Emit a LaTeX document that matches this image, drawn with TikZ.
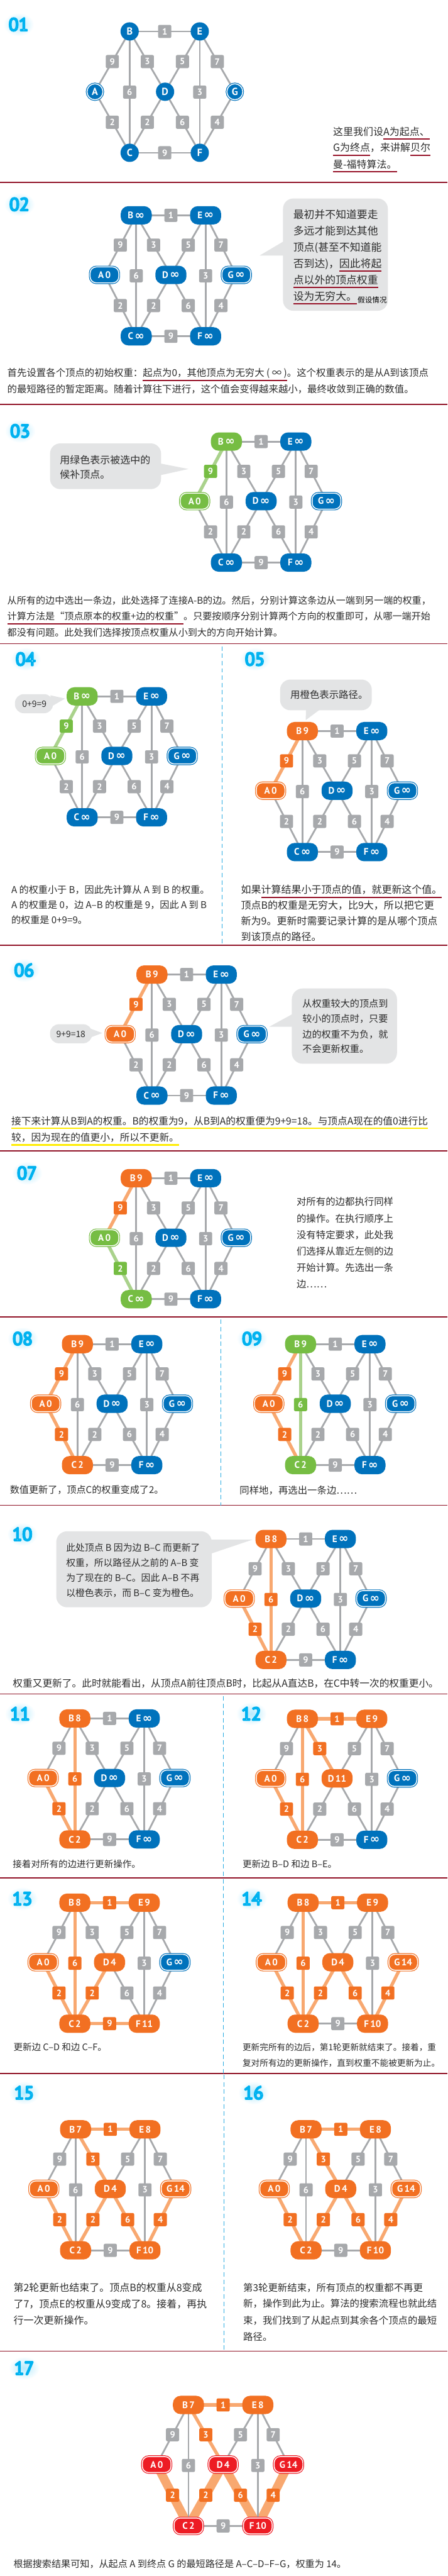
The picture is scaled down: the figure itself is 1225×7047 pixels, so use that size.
\documentclass[tikz,border=0pt]{standalone}
\usepackage{fontspec}
\setmainfont{Noto Sans CJK SC}
\newfontfamily\nodefamily{PT Sans}
\newfontfamily\inffamily{DejaVu Sans}
\usetikzlibrary{calc}
\pgfdeclarelayer{bg}
\pgfsetlayers{bg,main}
\definecolor{nblue}{RGB}{0,114,188}
\definecolor{ngrey}{RGB}{167,169,172}
\definecolor{ngreen}{RGB}{118,189,67}
\definecolor{lgreen}{RGB}{170,210,140}
\definecolor{norange}{RGB}{242,112,34}
\definecolor{lorange}{RGB}{248,168,112}
\definecolor{nred}{RGB}{237,28,36}
\definecolor{sepred}{RGB}{145,20,40}
\definecolor{divcyan}{RGB}{41,171,226}
\definecolor{bubc}{RGB}{227,228,229}
\definecolor{txtc}{RGB}{45,45,45}
\definecolor{ulred}{RGB}{150,18,40}
\definecolor{ulyel}{RGB}{255,236,0}
\definecolor{numglow}{RGB}{80,205,250}
\newcommand\vfont{\nodefamily\bfseries\fontsize{26}{26}\selectfont}
\newcommand\cfont{\nodefamily\bfseries\fontsize{28}{28}\selectfont}
\newcommand\lfont{\nodefamily\bfseries\fontsize{25}{25}\selectfont}
\newcommand\numfont{\nodefamily\fontsize{50}{50}\selectfont}
\newcommand\hsp{\hspace{4pt}}
\newcommand\infy{\raisebox{-1pt}{\inffamily\bfseries\fontsize{32}{32}\selectfont ∞}}
\newcommand\ul[1]{\setbox0\hbox{#1}\rlap{\color{ulred}\rule[-11.75pt]{\wd0}{3.5pt}}\box0}
\newcommand\uly[1]{\setbox0\hbox{#1}\rlap{\color{ulyel}\rule[-11.75pt]{\wd0}{4pt}}\box0}
\newcommand\outl[1]{\special{pdf:literal direct 0 0.698 0.941 RG 3.8 w 1 j 2 Tr}#1\special{pdf:literal direct 0 Tr}}
\newcounter{tln}
\newcommand\tline[4][26]{\stepcounter{tln}\node[txt,font=\fontsize{#1}{#1}\selectfont] (tl\arabic{tln}) at (#2,{#3+0.38*#1}) {#4};}
\newcommand\tcen[4][24]{\stepcounter{tln}\node[txt,anchor=base,font=\fontsize{#1}{#1}\selectfont] (tl\arabic{tln}) at (#2,{#3+0.38*#1}) {#4};}
\tikzset{
 txt/.style={anchor=base west,inner sep=0pt,text=txtc},
 numtxt/.style={inner sep=0pt,font=\numfont,text=white},
 vbase/.style={rectangle,rounded corners=21pt,minimum width=85pt,minimum height=50pt,inner sep=0pt,text=white,font=\vfont},
 vring/.style={vbase,rounded corners=17pt,minimum width=78.5pt,minimum height=43.5pt,line width=2pt,double distance=2.5pt,double=white},
 vb/.style={vbase,fill=nblue},
 vbr/.style={vring,fill=nblue,draw=nblue},
 vg/.style={vbase,fill=ngreen},
 vgr/.style={vring,fill=ngreen,draw=ngreen},
 vo/.style={vbase,fill=norange},
 vor/.style={vring,fill=norange,draw=norange},
 vrr/.style={vring,fill=nred,draw=nred},
 cb/.style={circle,minimum size=50pt,inner sep=0pt,fill=nblue,text=white,font=\cfont},
 cbr/.style={cb,minimum size=43.5pt,draw=nblue,line width=2pt,double distance=2.5pt,double=white},
 eg/.style={draw=ngrey,line width=4.8pt},
 egr/.style={draw=lgreen,line width=9pt},
 eo/.style={draw=lorange,line width=9pt},
 ef/.style={draw=lorange,line width=24pt},
 lbase/.style={rectangle,rounded corners=4pt,minimum width=36pt,minimum height=36pt,inner sep=0pt,text=white,font=\lfont},
 lg/.style={lbase,fill=ngrey},
 lgr/.style={lbase,fill=ngreen},
 lo/.style={lbase,fill=norange},
 lf/.style={lbase,fill=norange},
 sep/.style={draw=sepred,line width=3pt},
 divl/.style={draw=divcyan,line width=1.8pt,dash pattern=on 12pt off 8pt},
}
\newcommand\setrect{\def\posA{-87,163}\def\posB{0,0}\def\posC{0,331}\def\posD{95,163}\def\posE{190,0}\def\posF{190,331}\def\posG{274,163}}
\newcommand\setcirc{\def\posA{-95,165}\def\posB{0,0}\def\posC{0,332}\def\posD{97,165}\def\posE{192,0}\def\posF{192,332}\def\posG{288,165}}
\newcommand\gph[4]{%
 \begin{scope}[shift={(#2)}]
 \foreach \nn/\st/\tx in {#3}{%
  \edef\tmp{\noexpand\node[\st] (#1\nn) at (\csname pos\nn\endcsname) {\unexpanded\expandafter{\tx}};}\tmp}
 \end{scope}
 \begin{pgfonlayer}{bg}
 \foreach \ea/\eb/\ew/\ec in {#4}{%
  \edef\tmp{\noexpand\draw[e\ec] (#1\ea.center) -- (#1\eb.center);}\tmp}
 \end{pgfonlayer}
 \foreach \ea/\eb/\ew/\ec in {#4}{%
  \edef\tmp{\noexpand\node[l\ec] (#1\ea\eb) at ($(#1\ea.center)!0.5!(#1\eb.center)$) {\ew};}\tmp}
}
\newcommand\secnum[4]{%
 \shade[inner color=numglow!42,outer color=white] (#2,#3) ellipse (42 and 32);
 \node[numtxt] (#1) at (#2,#3) {\outl{#4}};
}
\begin{document}
\begin{tikzpicture}[x=1pt,y=-1pt]
\useasboundingbox (0,0) rectangle (1225,7047);
\begin{pgfonlayer}{bg}
\fill[white] (0,0) rectangle (1225,7047);
\end{pgfonlayer}
% separators and dividers
\foreach \yy in {499,1106,1761,2586,3148,3603,4118,4634,5137,5672,6432}{\draw[sep] (0,\yy) -- (1225,\yy);}
\draw[divl] (608,1768) -- (608,2586);
\draw[divl] (604,3610) -- (604,4118);
\draw[divl] (612,4640) -- (612,5137);
\draw[divl] (612,5140) -- (612,5672);
\draw[divl] (613,5676) -- (613,6432);
% ---------- 01
\secnum{n01}{51}{67}{01}
\setcirc
\gph{a}{355,86}{A/cbr/A,B/cb/B,C/cb/C,D/cb/D,E/cb/E,F/cb/F,G/cbr/G}{A/B/9/g,A/C/2/g,B/C/6/g,B/D/3/g,B/E/1/g,C/D/2/g,C/F/9/g,D/E/5/g,D/F/6/g,E/F/3/g,E/G/7/g,F/G/4/g}
\tline[27.5]{912}{360}{这里我们设\ul{A为起点、}}
\tline[27.5]{912}{404}{\ul{G为终点}，来讲解\ul{贝尔}}
\tline[27.5]{912}{450}{\ul{曼-福特算法。}}
% ---------- 02
\secnum{n02}{53}{559}{02}
\setrect
\gph{b}{373,589}{A/vbr/A\hsp0,B/vb/B\hsp\infy,C/vb/C\hsp\infy,D/vb/D\hsp\infy,E/vb/E\hsp\infy,F/vb/F\hsp\infy,G/vbr/G\hsp\infy}{A/B/9/g,A/C/2/g,B/C/6/g,B/D/3/g,B/E/1/g,C/D/2/g,C/F/9/g,D/E/5/g,D/F/6/g,E/F/3/g,E/G/7/g,F/G/4/g}
\fill[bubc,rounded corners=28pt] (775,543) rectangle (1062,850);
\fill[bubc] (777,660) -- (711,699) -- (777,699) -- cycle;
\tline[29]{803}{587}{最初并不知道要走}
\tline[29]{803}{631}{多远才能到达其他}
\tline[29]{803}{676}{顶点(甚至不知道能}
\tline[29]{803}{721}{否到达)，\ul{因此将起}}
\tline[29]{803}{766}{\ul{点以外的顶点权重}}
\tline[29]{803}{810}{\ul{设为无穷大。}}
\tline[20]{979}{821}{\color{black}假设情况}
\tline[26.5]{20}{1020}{首先设置各个顶点的初始权重：\ul{起点为0，其他顶点为无穷大 ( ∞ )}。这个权重表示的是从A到该顶点}
\tline[26.5]{20}{1065}{的最短路径的暂定距离。随着计算往下进行，这个值会变得越来越小，最终收敛到正确的数值。}
% ---------- 03
\secnum{n03}{55}{1179}{03}
\gph{c}{620,1208}{A/vgr/A\hsp0,B/vg/B\hsp\infy,C/vb/C\hsp\infy,D/vb/D\hsp\infy,E/vb/E\hsp\infy,F/vb/F\hsp\infy,G/vbr/G\hsp\infy}{A/B/9/gr,A/C/2/g,B/C/6/g,B/D/3/g,B/E/1/g,C/D/2/g,C/F/9/g,D/E/5/g,D/F/6/g,E/F/3/g,E/G/7/g,F/G/4/g}
\fill[bubc,rounded corners=28pt] (137,1213) rectangle (441,1338);
\fill[bubc] (439,1268) -- (516,1283) -- (439,1300) -- cycle;
\tline[27.5]{164}{1258}{用绿色表示被选中的}
\tline[27.5]{164}{1298}{候补顶点。}
\tline[26]{20}{1642}{从所有的边中选出一条边，此处选择了连接A-B的边。然后，分别计算这条边从一端到另一端的权重，}
\tline[26]{20}{1686}{\ul{计算方法是“顶点原本的权重+边的权重”}。只要按顺序分别计算两个方向的权重即可，从哪一端开始}
\tline[26]{20}{1730}{都没有问题。此处我们选择按顶点权重从小到大的方向开始计算。}
% ---------- 04
\secnum{n04}{70}{1803}{04}
\gph{d}{225,1905}{A/vgr/A\hsp0,B/vg/B\hsp\infy,C/vb/C\hsp\infy,D/vb/D\hsp\infy,E/vb/E\hsp\infy,F/vb/F\hsp\infy,G/vbr/G\hsp\infy}{A/B/9/gr,A/C/2/g,B/C/6/g,B/D/3/g,B/E/1/g,C/D/2/g,C/F/9/g,D/E/5/g,D/F/6/g,E/F/3/g,E/G/7/g,F/G/4/g}
\fill[bubc,rounded corners=24pt] (41,1899) rectangle (145,1951);
\fill[bubc] (138,1902) -- (178,1911) -- (142,1932) -- cycle;
\tcen[24]{94}{1925}{0+9=9}
\tline[26]{31}{2434}{A 的权重小于 B，因此先计算从 A 到 B 的权重。}
\tline[26]{31}{2475}{A 的权重是 0，边 A–B 的权重是 9，因此 A 到 B}
\tline[26]{31}{2516}{的权重是 0+9=9。}
% ---------- 05
\secnum{n05}{698}{1803}{05}
\gph{e}{828,2000}{A/vor/A\hsp0,B/vo/B\hsp9,C/vb/C\hsp\infy,D/vb/D\hsp\infy,E/vb/E\hsp\infy,F/vb/F\hsp\infy,G/vbr/G\hsp\infy}{A/B/9/o,A/C/2/g,B/C/6/g,B/D/3/g,B/E/1/g,C/D/2/g,C/F/9/g,D/E/5/g,D/F/6/g,E/F/3/g,E/G/7/g,F/G/4/g}
\fill[bubc,rounded corners=28pt] (767,1859) rectangle (1018,1943);
\fill[bubc] (838,1941) -- (837,1970) -- (876,1941) -- cycle;
\tline[26.5]{795}{1901}{用橙色表示路径。}
\tline[27.5]{660}{2434}{如果\ul{计算结果小于顶点的值，就更新这个值。}}
\tline[27.5]{660}{2477}{顶点B的权重是无穷大，比9大，所以把它更}
\tline[27.5]{660}{2520}{新为9。更新时需要记录计算的是从哪个顶点}
\tline[27.5]{660}{2563}{到该顶点的路径。}
% ---------- 06
\secnum{n06}{66}{2654}{06}
\gph{f}{416,2666}{A/vor/A\hsp0,B/vo/B\hsp9,C/vb/C\hsp\infy,D/vb/D\hsp\infy,E/vb/E\hsp\infy,F/vb/F\hsp\infy,G/vbr/G\hsp\infy}{A/B/9/o,A/C/2/g,B/C/6/g,B/D/3/g,B/E/1/g,C/D/2/g,C/F/9/g,D/E/5/g,D/F/6/g,E/F/3/g,E/G/7/g,F/G/4/g}
\fill[bubc,rounded corners=24pt] (137,2802) rectangle (252,2854);
\fill[bubc] (248,2814) -- (280,2826) -- (248,2838) -- cycle;
\tcen[24]{194}{2828}{9+9=18}
\fill[bubc,rounded corners=30pt] (799,2704) rectangle (1087,2910);
\fill[bubc] (801,2774) -- (737,2809) -- (801,2809) -- cycle;
\tline[26]{828}{2745}{从权重较大的顶点到}
\tline[26]{828}{2786}{较小的顶点时，只要}
\tline[26]{828}{2829}{边的权重不为负，就}
\tline[26]{828}{2870}{不会更新权重。}
\tline[27]{31}{3067}{\uly{接下来计算从B到A的权重。B的权重为9，从B到A的权重便为9+9=18。与顶点A现在的值0进行比}}
\tline[27]{31}{3112}{\uly{较，因为现在的值更小，所以不更新。}}
% ---------- 07
\secnum{n07}{74}{3209}{07}
\gph{g}{373,3223}{A/vgr/A\hsp0,B/vo/B\hsp9,C/vg/C\hsp\infy,D/vb/D\hsp\infy,E/vb/E\hsp\infy,F/vb/F\hsp\infy,G/vbr/G\hsp\infy}{A/B/9/o,A/C/2/gr,B/C/6/g,B/D/3/g,B/E/1/g,C/D/2/g,C/F/9/g,D/E/5/g,D/F/6/g,E/F/3/g,E/G/7/g,F/G/4/g}
\tline[26.5]{812}{3288}{对所有的边都执行同样}
\tline[26.5]{812}{3333}{的操作。在执行顺序上}
\tline[26.5]{812}{3378}{没有特定要求，此处我}
\tline[26.5]{812}{3423}{们选择从靠近左侧的边}
\tline[26.5]{812}{3468}{开始计算。先选出一条}
\tline[26.5]{812}{3512}{边……}
% ---------- 08
\secnum{n08}{62}{3662}{08}
\gph{h}{212,3677}{A/vor/A\hsp0,B/vo/B\hsp9,C/vo/C\hsp2,D/vb/D\hsp\infy,E/vb/E\hsp\infy,F/vb/F\hsp\infy,G/vbr/G\hsp\infy}{A/B/9/o,A/C/2/o,B/C/6/g,B/D/3/g,B/E/1/g,C/D/2/g,C/F/9/g,D/E/5/g,D/F/6/g,E/F/3/g,E/G/7/g,F/G/4/g}
\tline[26]{27}{4076}{数值更新了，顶点C的权重变成了2。}
% ---------- 09
\secnum{n09}{690}{3662}{09}
\gph{i}{823,3677}{A/vor/A\hsp0,B/vg/B\hsp9,C/vg/C\hsp2,D/vb/D\hsp\infy,E/vb/E\hsp\infy,F/vb/F\hsp\infy,G/vbr/G\hsp\infy}{A/B/9/o,A/C/2/o,B/C/6/gr,B/D/3/g,B/E/1/g,C/D/2/g,C/F/9/g,D/E/5/g,D/F/6/g,E/F/3/g,E/G/7/g,F/G/4/g}
\tline[26.5]{656}{4076}{同样地，再选出一条边……}
% ---------- 10
\secnum{n10}{61}{4197}{10}
\gph{j}{742,4210}{A/vor/A\hsp0,B/vo/B\hsp8,C/vo/C\hsp2,D/vb/D\hsp\infy,E/vb/E\hsp\infy,F/vb/F\hsp\infy,G/vbr/G\hsp\infy}{A/C/2/o,B/C/6/o,A/B/9/g,B/D/3/g,B/E/1/g,C/D/2/g,C/F/9/g,D/E/5/g,D/F/6/g,E/F/3/g,E/G/7/g,F/G/4/g}
\fill[bubc,rounded corners=30pt] (154,4189) rectangle (580,4397);
\fill[bubc] (578,4212) -- (691,4212) -- (578,4250) -- cycle;
\tline[25.5]{181}{4234}{此处顶点 B 因为边 B–C 而更新了}
\tline[25.5]{181}{4275}{权重，所以路径从之前的 A–B 变}
\tline[25.5]{181}{4316}{为了现在的 B–C。因此 A–B 不再}
\tline[25.5]{181}{4358}{以橙色表示，而 B–C 变为橙色。}
\tline[27]{35}{4605}{权重又更新了。此时就能看出，从顶点A前往顶点B时，比起从A直达B，在C中转一次的权重更小。}
% ---------- 11
\secnum{n11}{55}{4688}{11}
\gph{k}{205,4701}{A/vor/A\hsp0,B/vo/B\hsp8,C/vo/C\hsp2,D/vb/D\hsp\infy,E/vb/E\hsp\infy,F/vb/F\hsp\infy,G/vbr/G\hsp\infy}{A/C/2/o,B/C/6/o,A/B/9/g,B/D/3/g,B/E/1/g,C/D/2/g,C/F/9/g,D/E/5/g,D/F/6/g,E/F/3/g,E/G/7/g,F/G/4/g}
\tline[25]{35}{5099}{接着对所有的边进行更新操作。}
% ---------- 12
\secnum{n12}{688}{4688}{12}
\gph{l}{828,4702}{A/vor/A\hsp0,B/vo/B\hsp8,C/vo/C\hsp2,D/vo/D\hsp11,E/vo/E\hsp9,F/vb/F\hsp\infy,G/vbr/G\hsp\infy}{A/C/2/o,B/C/6/o,B/D/3/o,B/E/1/o,A/B/9/g,C/D/2/g,C/F/9/g,D/E/5/g,D/F/6/g,E/F/3/g,E/G/7/g,F/G/4/g}
\tline[25]{664}{5099}{更新边 B–D 和边 B–E。}
% ---------- 13
\secnum{n13}{61}{5194}{13}
\gph{m}{205,5205}{A/vor/A\hsp0,B/vo/B\hsp8,C/vo/C\hsp2,D/vo/D\hsp4,E/vo/E\hsp9,F/vo/F\hsp11,G/vbr/G\hsp\infy}{B/E/1/o,B/C/6/o,A/C/2/o,C/D/2/o,C/F/9/o,A/B/9/g,B/D/3/g,D/E/5/g,D/F/6/g,E/F/3/g,E/G/7/g,F/G/4/g}
\tline[25]{37}{5600}{更新边 C–D 和边 C–F。}
% ---------- 14
\secnum{n14}{689}{5194}{14}
\gph{n}{830,5205}{A/vor/A\hsp0,B/vo/B\hsp8,C/vo/C\hsp2,D/vo/D\hsp4,E/vo/E\hsp9,F/vo/F\hsp10,G/vor/G\hsp14}{B/E/1/o,B/C/6/o,A/C/2/o,C/D/2/o,D/F/6/o,F/G/4/o,A/B/9/g,B/D/3/g,C/F/9/g,D/E/5/g,E/F/3/g,E/G/7/g}
\tline[23.5]{664}{5600}{更新完所有的边后，第1轮更新就结束了。接着，重}
\tline[23.5]{664}{5644}{复对所有边的更新操作，直到权重不能被更新为止。}
% ---------- 15
\secnum{n15}{66}{5725}{15}
\gph{o}{207,5825}{A/vor/A\hsp0,B/vo/B\hsp7,C/vo/C\hsp2,D/vo/D\hsp4,E/vo/E\hsp8,F/vo/F\hsp10,G/vor/G\hsp14}{B/E/1/o,B/D/3/o,A/C/2/o,C/D/2/o,D/F/6/o,F/G/4/o,A/B/9/g,B/C/6/g,C/F/9/g,D/E/5/g,E/F/3/g,E/G/7/g}
\tline[27.5]{37}{6258}{第2轮更新也结束了。顶点B的权重从8变成}
\tline[27.5]{37}{6302}{了7，顶点E的权重从9变成了8。接着，再执}
\tline[27.5]{37}{6347}{行一次更新操作。}
% ---------- 16
\secnum{n16}{694}{5725}{16}
\gph{p}{838,5825}{A/vor/A\hsp0,B/vo/B\hsp7,C/vo/C\hsp2,D/vo/D\hsp4,E/vo/E\hsp8,F/vo/F\hsp10,G/vor/G\hsp14}{B/E/1/o,B/D/3/o,A/C/2/o,C/D/2/o,D/F/6/o,F/G/4/o,A/B/9/g,B/C/6/g,C/F/9/g,D/E/5/g,E/F/3/g,E/G/7/g}
\tline[26.5]{666}{6258}{第3轮更新结束，所有顶点的权重都不再更}
\tline[26.5]{666}{6302}{新，操作到此为止。算法的搜索流程也就此结}
\tline[26.5]{666}{6347}{束，我们找到了从起点到其余各个顶点的最短}
\tline[26.5]{666}{6392}{路径。}
% ---------- 17
\secnum{n17}{66}{6478}{17}
\gph{q}{516,6579}{A/vrr/A\hsp0,B/vo/B\hsp7,C/vrr/C\hsp2,D/vrr/D\hsp4,E/vo/E\hsp8,F/vrr/F\hsp10,G/vrr/G\hsp14}{A/C/2/f,C/D/2/f,D/F/6/f,F/G/4/f,B/E/1/o,B/D/3/o,A/B/9/g,B/C/6/g,C/F/9/g,D/E/5/g,E/F/3/g,E/G/7/g}
\tline[26]{37}{7014}{根据搜索结果可知，从起点 A 到终点 G 的最短路径是 A–C–D–F–G，权重为 14。}
\end{tikzpicture}
\end{document}
